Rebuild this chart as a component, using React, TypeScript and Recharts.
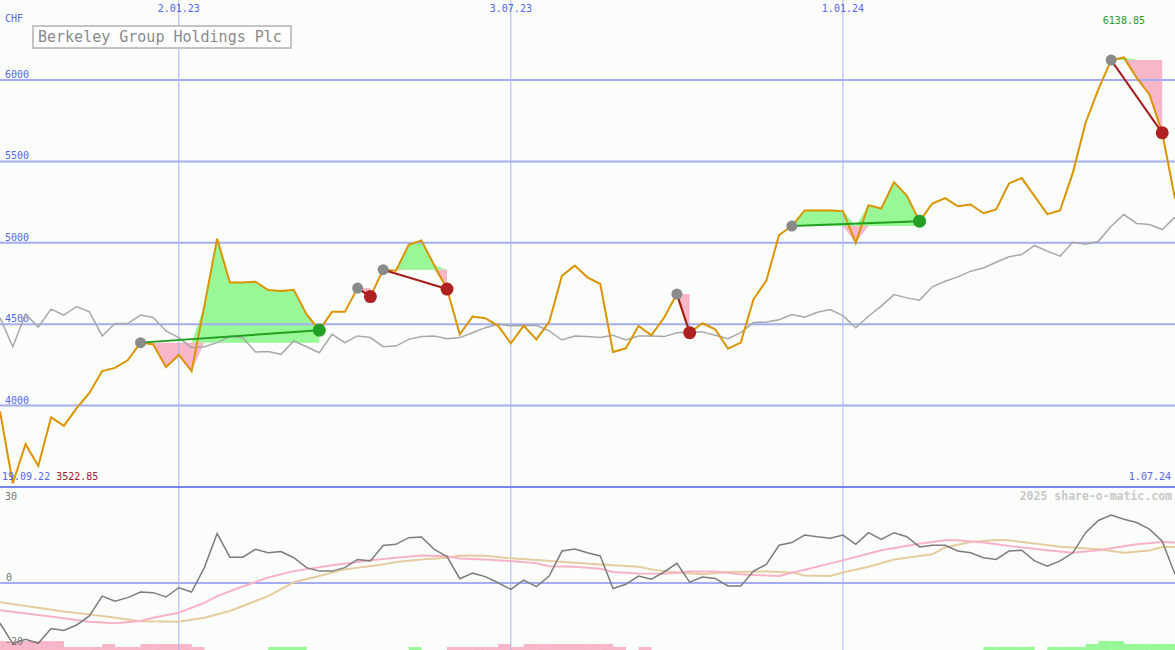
import React from 'react';
import {
  ComposedChart, BarChart, Line, Area, Bar, Cell, XAxis, YAxis, ReferenceLine, ReferenceDot,
} from 'recharts';

// weekly closes, 19.09.22 .. 1.07.24 (index = week)
const price = [
  3965, 3522.85, 3763, 3629, 3928, 3876, 3985, 4078, 4212, 4232,
  4278, 4387, 4376, 4236, 4311, 4212, 4613, 5025, 4757, 4757,
  4761, 4710, 4704, 4712, 4562, 4463, 4576, 4576, 4722, 4670,
  4835, 4829, 4988, 5014, 4862, 4716, 4438, 4547, 4537, 4490,
  4383, 4490, 4407, 4514, 4798, 4860, 4788, 4747, 4329, 4352,
  4490, 4432, 4541, 4685, 4448, 4506, 4469, 4350, 4387, 4654,
  4767, 5048, 5103, 5199, 5199, 5199, 5195, 5000, 5232, 5211,
  5373, 5291, 5133, 5242, 5275, 5225, 5236, 5182, 5205, 5365,
  5398, 5287, 5176, 5199, 5430, 5738, 5943, 6123, 6138.85, 6014,
  5912, 5676, 5271,
];

// comparison index (grey)
const compare = [
  4541, 4362, 4562, 4483, 4593, 4556, 4609, 4576, 4428, 4504,
  4504, 4556, 4541, 4459, 4418, 4356, 4362, 4387, 4424, 4418,
  4329, 4333, 4315, 4397, 4362, 4325, 4438, 4387, 4428, 4418,
  4362, 4366, 4407, 4424, 4428, 4411, 4418, 4448, 4479, 4500,
  4490, 4490, 4494, 4459, 4403, 4428, 4424, 4418, 4432, 4403,
  4428, 4428, 4424, 4448, 4453, 4453, 4432, 4411, 4448, 4510,
  4514, 4528, 4560, 4543, 4574, 4590, 4553, 4478, 4549, 4611,
  4682, 4662, 4648, 4730, 4764, 4791, 4826, 4846, 4881, 4914,
  4928, 4984, 4949, 4918, 5004, 4992, 5010, 5102, 5174, 5119,
  5113, 5082, 5158,
];

// lower panel: momentum
const momentum = [
  -13.8, -20.8, -19.3, -20.7, -15.6, -16.3, -14.4, -11.3, -4.5, -6.2,
  -5.0, -3.1, -3.3, -4.8, -1.6, -3.1, 5.3, 17.0, 8.9, 8.9,
  11.6, 10.4, 10.8, 8.7, 5.3, 4.1, 4.1, 5.3, 8.1, 7.6,
  12.9, 13.3, 15.6, 15.8, 11.6, 9.1, 1.5, 3.4, 2.2, 0.1,
  -2.2, 1.0, -1.2, 2.4, 11.0, 11.7, 10.4, 9.3, -1.9, -0.4,
  2.4, 1.3, 3.8, 6.8, 0.3, 2.1, 1.6, -1.0, -1.0, 4.1,
  6.4, 13.0, 13.9, 16.5, 15.9, 15.4, 16.5, 13.3, 17.3, 15.0,
  17.3, 15.9, 12.4, 13.0, 13.0, 11.0, 10.4, 8.7, 8.1, 11.0,
  11.3, 7.6, 5.8, 7.6, 10.4, 17.3, 21.5, 23.4, 21.9, 20.8,
  18.5, 14.4, 3.0,
];

// smoothed averages [week, value]
const avgPink: [number, number][] = [
  [0, -9.3], [3, -11], [5, -12.1], [7, -13.3], [9, -13.8], [11, -13], [12, -11.9], [14, -10.2],
  [16, -6.8], [17, -4.5], [19, -1.2], [21, 1.9], [23, 4.1], [26, 6.1], [29, 7.8], [31, 8.7],
  [33, 9.5], [35, 9.2], [36, 8.4], [38, 8.1], [40, 7.6], [42, 6.8], [43, 5.8], [45, 5.6],
  [47, 4.9], [48, 3.8], [50, 3.3], [52, 3.2], [54, 4.0], [56, 4.0], [58, 3.0], [61, 2.4],
  [63, 4.6], [66, 7.8], [69, 11.3], [72, 13.5], [74, 14.7], [75, 14.7], [77, 13.9], [79, 12.7],
  [82, 11.3], [84, 10.4], [86, 11.3], [89, 13.3], [91, 14.1], [92, 13.9],
];
const avgTan: [number, number][] = [
  [0, -6.6], [3, -8.5], [5, -9.8], [8, -11.3], [11, -13.1], [14, -13.3], [16, -11.9], [18, -9.6],
  [21, -4.5], [23, 0.3], [25, 2.4], [27, 4.7], [30, 6.4], [31, 7.2], [33, 8.1], [35, 8.7],
  [36, 9.5], [38, 9.4], [40, 8.5], [42, 7.9], [45, 7.0], [47, 6.4], [50, 5.6], [51, 4.7],
  [53, 3.6], [55, 3.0], [57, 3.8], [60, 4.0], [62, 3.6], [63, 2.6], [65, 2.4], [66, 3.6],
  [68, 5.6], [70, 8.1], [73, 9.9], [74, 12.2], [76, 14.1], [78, 14.8], [79, 14.7], [81, 13.6],
  [83, 12.5], [86, 11.6], [88, 10.4], [90, 11.2], [91, 12.4], [92, 12.4],
];

// signal histogram per week (negative = pink, positive = green)
const signalBars = [
  -3, -3, -3, -3, -3, -1, -1, -1, -2, -1,
  -1, -2, -2, -2, -2, -1, 0, 0, 0, 0,
  0, 1, 1, 1, 0, 0, 0, 0, 0, 0,
  0, 0, 1, 0, 0, -1, -1, -1, -1, -2,
  -1, -2, -2, -2, -2, -2, -2, -2, -1, 0,
  -1, 0, 0, 0, 0, 0, 0, 0, 0, 0,
  0, 0, 0, 0, 0, 0, 0, 0, 0, 0,
  0, 0, 0, 0, 0, 0, 0, 1, 1, 1,
  1, 0, 1, 1, 1, 2, 3, 3, 2, 2,
  2, 2,
];

// trades: entry week -> exit week
const signals = [
  { start: 11, end: 25 },
  { start: 28, end: 29 },
  { start: 30, end: 35 },
  { start: 53, end: 54 },
  { start: 62, end: 72 },
  { start: 87, end: 91 },
];

const priceTicks = [4000, 4500, 5000, 5500, 6000];
const dateTicks = [
  { i: 14, label: '2.01.23' },
  { i: 40, label: '3.07.23' },
  { i: 66, label: '1.01.24' },
];
const lowTicks = [30, -20];

const W = 1175;
const MAIN_H = 487;
const LOW_H = 163;
const BLUE = '#5266ee';
const GRID = '#a4adf2';
const MONO = '"DejaVu Sans Mono", "Liberation Mono", monospace';
const GREEN = '#98f898';
const PINK = '#f8b6c9';

const rows = price.map((p, i) => ({ i, price: p, compare: compare[i] }));
const lowRows = momentum.map((m, i) => ({ i, m }));
const pinkRows = avgPink.map(([i, v]) => ({ i, v }));
const tanRows = avgTan.map(([i, v]) => ({ i, v }));
const barRows = signalBars.map((v, k) => ({ k, h: Math.abs(v), v }));

const maxIdx = price.indexOf(Math.max(...price));
const minVal = Math.min(...price);

const App = () => {
  return (
    <div style={{ position: 'absolute', left: 0, top: 0, width: W, height: 650, background: '#fbfdfb', overflow: 'hidden', fontFamily: MONO }}>
      <div style={{ position: 'absolute', left: 0, top: 0 }}>
        <ComposedChart width={W} height={MAIN_H} data={rows} margin={{ top: 0, right: 0, bottom: 0, left: 0 }}>
          <XAxis dataKey="i" type="number" domain={[0, 92]} hide />
          <YAxis type="number" domain={[3500, 6492]} hide allowDataOverflow />
          {priceTicks.map((v) => (
            <ReferenceLine key={v} y={v} stroke={GRID} strokeWidth={2}
              label={(p: any) => (
                <text x={5} y={p.viewBox.y - 2} fill={BLUE} fontSize={10} fontFamily={MONO}>{v}</text>
              )}
            />
          ))}
          {dateTicks.map((d) => (
            <ReferenceLine key={d.i} x={d.i} stroke="#a9b2f0" strokeWidth={1}
              label={(p: any) => (
                <text x={p.viewBox.x} y={12} fill={BLUE} fontSize={10} fontFamily={MONO} textAnchor="middle">{d.label}</text>
              )}
            />
          ))}
          {signals.map((s) => {
            const lvl = price[s.start];
            const seg = price.slice(s.start, s.end + 1).map((p, k) => ({
              i: s.start + k,
              up: [lvl, Math.max(p, lvl)],
              dn: [Math.min(p, lvl), lvl],
            }));
            return [
              <Area key={`u${s.start}`} data={seg} dataKey="up" type="linear" stroke="none" fill={GREEN} fillOpacity={1} activeDot={false} isAnimationActive={false} />,
              <Area key={`d${s.start}`} data={seg} dataKey="dn" type="linear" stroke="none" fill={PINK} fillOpacity={1} activeDot={false} isAnimationActive={false} />,
            ];
          })}
          <Line dataKey="compare" type="linear" stroke="#a8a8a8" strokeWidth={1.5} dot={false} activeDot={false} isAnimationActive={false} />
          <Line dataKey="price" type="linear" stroke="#d99400" strokeWidth={2} dot={false} activeDot={false} isAnimationActive={false} />
          {signals.map((s) => {
            const win = price[s.end] > price[s.start];
            const pts = [{ i: s.start, v: price[s.start] }, { i: s.end, v: price[s.end] }];
            return (
              <Line key={`s${s.start}`} data={pts} dataKey="v" type="linear"
                stroke={win ? '#22a022' : '#a51b1b'} strokeWidth={2} activeDot={false} isAnimationActive={false}
                dot={(p: any) => (
                  <circle key={`c${s.start}-${p.index}`} cx={p.cx} cy={p.cy} r={p.index === 0 ? 5.5 : 6.5}
                    fill={p.index === 0 ? '#8a8a8a' : win ? '#22a022' : '#b02020'} />
                )}
              />
            );
          })}
          <ReferenceDot x={maxIdx} y={price[maxIdx]} r={0} stroke="none"
            label={(p: any) => (
              <text x={p.viewBox.x} y={24} fill="#2a9a2a" fontSize={10} fontFamily={MONO} textAnchor="middle">
                {price[maxIdx].toFixed(2)}
              </text>
            )}
          />
        </ComposedChart>
      </div>

      <div style={{ position: 'absolute', left: 0, top: 640 }}>
        <BarChart width={W} height={10} data={barRows} margin={{ top: 0, right: 0, bottom: 0, left: 0 }} barCategoryGap={0}>
          <XAxis dataKey="k" hide />
          <YAxis domain={[0, 3.33]} hide allowDataOverflow />
          <Bar dataKey="h" isAnimationActive={false} activeBar={false}>
            {barRows.map((r) => (
              <Cell key={r.k} fill={r.v < 0 ? PINK : '#98f898'} />
            ))}
          </Bar>
        </BarChart>
      </div>

      <div style={{ position: 'absolute', left: 0, top: MAIN_H }}>
        <ComposedChart width={W} height={LOW_H} data={lowRows} margin={{ top: 0, right: 0, bottom: 0, left: 0 }}>
          <XAxis dataKey="i" type="number" domain={[0, 92]} hide />
          <YAxis type="number" domain={[-23, 33]} hide allowDataOverflow />
          <ReferenceLine y={0} stroke={GRID} strokeWidth={2}
            label={(p: any) => (
              <text x={6} y={p.viewBox.y - 2} fill="#777" fontSize={10} fontFamily={MONO}>0</text>
            )}
          />
          {lowTicks.map((v) => (
            <ReferenceLine key={v} y={v} stroke="none"
              label={(p: any) => (
                <text x={5} y={p.viewBox.y + 4} fill="#777" fontSize={10} fontFamily={MONO}>{v}</text>
              )}
            />
          ))}
          {dateTicks.map((d) => (
            <ReferenceLine key={d.i} x={d.i} stroke="#a9b2f0" strokeWidth={1} />
          ))}
          <Line data={tanRows} dataKey="v" type="linear" stroke="#e4cc9e" strokeWidth={2} dot={false} activeDot={false} isAnimationActive={false} />
          <Line data={pinkRows} dataKey="v" type="linear" stroke="#f7b2c8" strokeWidth={2} dot={false} activeDot={false} isAnimationActive={false} />
          <Line dataKey="m" type="linear" stroke="#7c7c7c" strokeWidth={1.5} dot={false} activeDot={false} isAnimationActive={false} />
        </ComposedChart>
      </div>

      <div style={{ position: 'absolute', left: 0, top: 486, width: W, height: 2, background: '#7486ee' }} />

      <div style={{ position: 'absolute', left: 5, top: 13, fontSize: 10, color: BLUE }}>CHF</div>
      <div style={{
        position: 'absolute', left: 32, top: 25, width: 252, height: 20, border: '2px solid #c4c4c4',
        background: '#fff', color: '#8a8a8a', fontSize: 15, lineHeight: '20px', paddingLeft: 4,
      }}>
        Berkeley Group Holdings Plc
      </div>
      <div style={{ position: 'absolute', left: 2, top: 471, fontSize: 10, whiteSpace: 'pre' }}>
        <span style={{ color: BLUE }}>19.09.22</span> <span style={{ color: '#a02020' }}>{minVal.toFixed(2)}</span>
      </div>
      <div style={{ position: 'absolute', right: 4, top: 471, fontSize: 10, color: BLUE }}>1.07.24</div>
      <div style={{ position: 'absolute', right: 3, top: 489, fontSize: 11.5, fontWeight: 'bold', color: '#c8c8c8' }}>
        2025 share-o-matic.com
      </div>
    </div>
  );
};

export default App;
